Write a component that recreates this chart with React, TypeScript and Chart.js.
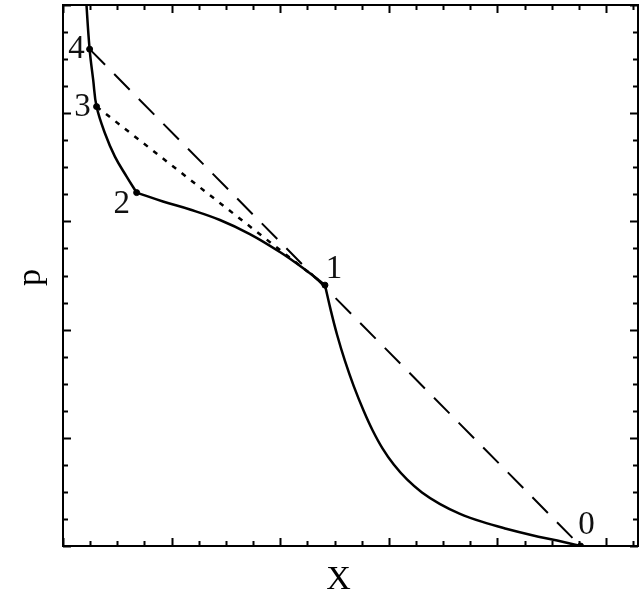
import React, { useEffect, useRef } from "react";
import { Chart, registerables } from "chart.js";

Chart.register(...registerables);

// axis ranges (no tick labels in the reference)
const X_MIN = 0;
const X_MAX = 5.294;
const Y_MIN = 0;
const Y_MAX = 5;
const MINOR_STEP = 0.25;

// solid curve, split at the kinks (states 2 and 1)
const upperX = [0.21, 0.245, 0.278, 0.309, 0.386, 0.478, 0.586, 0.678];
const upperY = [5.094, 4.592, 4.308, 4.061, 3.815, 3.599, 3.414, 3.266];
const middleX = [0.678, 0.92, 1.169, 1.445, 1.72, 1.997, 2.209, 2.412];
const middleY = [3.266, 3.184, 3.11, 3.013, 2.883, 2.717, 2.569, 2.411];
const lowerX = [2.412, 2.465, 2.524, 2.596, 2.676, 2.768, 2.85, 2.943, 3.047, 3.167, 3.305, 3.468, 3.65, 3.855, 4.08, 4.32, 4.55, 4.765];
const lowerY = [2.411, 2.18, 1.95, 1.71, 1.48, 1.25, 1.07, 0.9, 0.75, 0.615, 0.495, 0.39, 0.3, 0.225, 0.16, 0.1, 0.05, 0];

// numbered states
const stateLabels = ["0", "1", "2", "3", "4"];
const stateX = [4.765, 2.412, 0.678, 0.309, 0.245];
const stateY = [0, 2.411, 3.266, 4.061, 4.592];

const pts = (xs: number[], ys: number[]) => xs.map((x, i) => ({ x, y: ys[i] }));

const SERIF = '"Liberation Serif", "Times New Roman", serif';

const labelOffsets: Record<string, [number, number]> = {
  "0": [6, -21],
  "1": [9, -16],
  "2": [-15, 12],
  "3": [-14, 1],
  "4": [-13, 0],
};

const framePlugin = {
  id: "framePlugin",
  afterDatasetsDraw(chart: any) {
    const { ctx, chartArea: a, scales } = chart;
    const xs = scales.x;
    const ys = scales.y;
    ctx.save();
    ctx.strokeStyle = "#000";
    ctx.lineWidth = 2;
    ctx.strokeRect(a.left, a.top, a.right - a.left, a.bottom - a.top);
    ctx.beginPath();
    for (let v = X_MIN; v <= X_MAX + 1e-9; v += MINOR_STEP) {
      const major = Math.abs(v - Math.round(v)) < 1e-6;
      const len = major ? 8 : 5;
      const px = Math.round(xs.getPixelForValue(v)) + 0.5;
      ctx.moveTo(px, a.bottom);
      ctx.lineTo(px, a.bottom - len);
      ctx.moveTo(px, a.top);
      ctx.lineTo(px, a.top + len);
    }
    for (let v = Y_MIN; v <= Y_MAX + 1e-9; v += MINOR_STEP) {
      const major = Math.abs(v - Math.round(v)) < 1e-6;
      const len = major ? 8 : 5;
      const py = Math.round(ys.getPixelForValue(v)) + 0.5;
      ctx.moveTo(a.left, py);
      ctx.lineTo(a.left + len, py);
      ctx.moveTo(a.right, py);
      ctx.lineTo(a.right - len, py);
    }
    ctx.stroke();

    // state numbers
    ctx.fillStyle = "#111";
    ctx.font = `33px ${SERIF}`;
    ctx.textAlign = "center";
    ctx.textBaseline = "middle";
    stateLabels.forEach((lab, i) => {
      const [dx, dy] = labelOffsets[lab];
      const px = xs.getPixelForValue(stateX[i]);
      const py = ys.getPixelForValue(stateY[i]);
      ctx.fillText(lab, px + dx, py + dy);
    });

    // axis titles
    ctx.fillStyle = "#000";
    ctx.font = `34px ${SERIF}`;
    ctx.fillText("X", (a.left + a.right) / 2 - 12, a.bottom + 34);
    ctx.save();
    ctx.translate(a.left - 32, (a.top + a.bottom) / 2 + 2);
    ctx.rotate(-Math.PI / 2);
    ctx.fillText("p", 0, 0);
    ctx.restore();
    ctx.restore();
  },
};

export default function App() {
  const ref = useRef<HTMLCanvasElement | null>(null);
  useEffect(() => {
    if (!ref.current) return;
    const solid = {
      showLine: true,
      borderColor: "#000",
      borderWidth: 2.5,
      pointRadius: 0,
      tension: 0.4,
    };
    const chart = new Chart(ref.current, {
      type: "scatter",
      data: {
        datasets: [
          { ...solid, label: "upper", data: pts(upperX, upperY) },
          { ...solid, label: "middle", data: pts(middleX, middleY) },
          { ...solid, label: "lower", data: pts(lowerX, lowerY) },
          {
            label: "dashed",
            showLine: true,
            borderColor: "#000",
            borderWidth: 2,
            borderDash: [22, 13],
            pointRadius: 0,
            data: [
              { x: stateX[4], y: stateY[4] },
              { x: stateX[0], y: stateY[0] },
            ],
          },
          {
            label: "dotted",
            showLine: true,
            borderColor: "#000",
            borderWidth: 2.5,
            borderDash: [5, 7],
            pointRadius: 0,
            data: [
              { x: stateX[3], y: stateY[3] },
              { x: stateX[1], y: stateY[1] },
            ],
          },
          {
            label: "states",
            showLine: false,
            pointRadius: 3,
            pointBackgroundColor: "#000",
            pointBorderColor: "#000",
            data: pts(stateX, stateY),
          },
        ],
      },
      options: {
        animation: false,
        responsive: false,
        maintainAspectRatio: false,
        layout: { padding: { left: 63, right: 6, top: 5, bottom: 62 } },
        plugins: { legend: { display: false }, tooltip: { enabled: false } },
        scales: {
          x: { type: "linear", min: X_MIN, max: X_MAX, display: false },
          y: { type: "linear", min: Y_MIN, max: Y_MAX, display: false },
        },
      },
      plugins: [framePlugin],
    });
    return () => chart.destroy();
  }, []);
  return (
    <div style={{ position: "fixed", left: 0, top: 0, width: 644, height: 608, background: "#fff" }}>
      <canvas ref={ref} width={644} height={608} style={{ display: "block" }} />
    </div>
  );
}
